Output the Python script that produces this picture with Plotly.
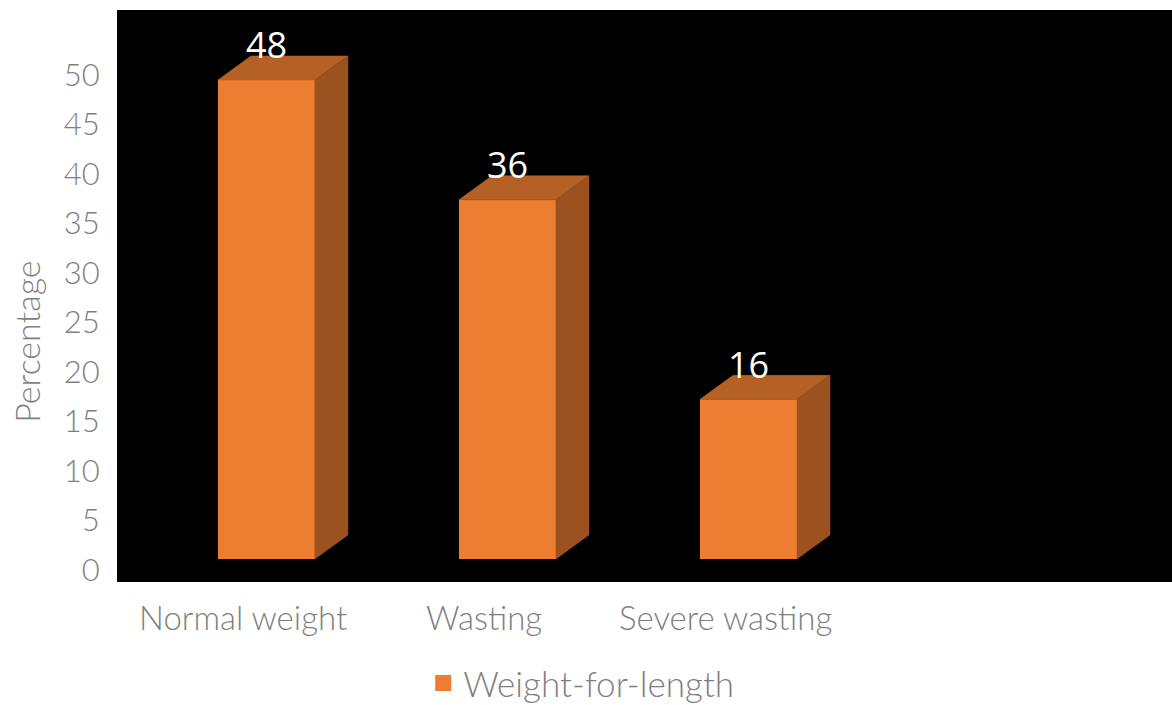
import plotly.graph_objects as go

categories = ["Normal weight", "Wasting", "Severe wasting"]
values = [48, 36, 16]
series_name = "Weight-for-length"
y_ticks = [0, 5, 10, 15, 20, 25, 30, 35, 40, 45, 50]

FRONT = "#ED7D31"
TOP = "#B56024"
SIDE = "#9B5120"
GREY = "#7F7F7F"

xs = list(range(len(categories)))
w = 0.4025      # bar width (category units)
dx = 0.137      # depth offset x (category units)
dy = 2.405      # depth offset y (value units)

top_x, top_y, side_x, side_y = [], [], [], []
for x, v in zip(xs, values):
    l, r = x - w / 2, x + w / 2
    top_x += [l, l + dx, r + dx, r, l, None]
    top_y += [v, v + dy, v + dy, v, v, None]
    side_x += [r, r + dx, r + dx, r, r, None]
    side_y += [0, dy, v + dy, v, 0, None]

fig = go.Figure()
fig.add_trace(go.Bar(x=xs, y=values, width=w, marker=dict(color=FRONT, line=dict(width=0)),
                     xaxis="x", yaxis="y2", showlegend=False, hoverinfo="skip"))
fig.add_trace(go.Scatter(x=top_x, y=top_y, fill="toself", fillcolor=TOP, mode="lines",
                         line=dict(width=0.5, color=TOP), xaxis="x", yaxis="y2",
                         showlegend=False, hoverinfo="skip"))
fig.add_trace(go.Scatter(x=side_x, y=side_y, fill="toself", fillcolor=SIDE, mode="lines",
                         line=dict(width=0.5, color=SIDE), xaxis="x", yaxis="y2",
                         showlegend=False, hoverinfo="skip"))
# legend entry
fig.add_trace(go.Scatter(x=[None], y=[None], mode="markers", name=series_name,
                         marker=dict(symbol="square", size=18, color=FRONT),
                         showlegend=True))

annotations = []
for x, v in zip(xs, values):
    annotations.append(dict(x=x, y=v, xref="x", yref="y2", text=str(v), showarrow=False,
                            yanchor="middle", yshift=35,
                            font=dict(family="Open Sans", size=36, color="white")))
for x, c in zip(xs, categories):
    annotations.append(dict(x=x, y=-0.0612, xref="x", yref="paper", text=c, showarrow=False,
                            yanchor="middle", xshift=-23,
                            font=dict(family="Lato", size=33, color=GREY, weight=300)))
annotations.append(dict(x=-0.0853, y=0.42, xref="paper", yref="paper", text="Percentage",
                        showarrow=False, textangle=-90, xanchor="center", yanchor="middle",
                        font=dict(family="Lato", size=34, color=GREY, weight=300)))

fig.update_layout(
    width=1172, height=705,
    margin=dict(l=117, r=0, t=10, b=123, autoexpand=False),
    paper_bgcolor="white", plot_bgcolor="black",
    xaxis=dict(range=[-0.620, 3.757], showticklabels=False, showgrid=False,
               zeroline=False, ticks="", fixedrange=True),
    yaxis=dict(range=[-1.21, 56.57], tickvals=y_ticks, showgrid=False, zeroline=False,
               ticks="outside", ticklen=10, tickcolor="rgba(0,0,0,0)",
               tickfont=dict(family="Lato", size=31, color=GREY, weight=300)),
    yaxis2=dict(range=[-2.305, 55.01], overlaying="y", visible=False),
    legend=dict(orientation="h", x=0.44, xanchor="center", y=-0.177, yanchor="middle",
                font=dict(family="Lato", size=35, color=GREY, weight=300), itemsizing="trace",
                bgcolor="rgba(0,0,0,0)", borderwidth=0),
    annotations=annotations,
    showlegend=True,
)

fig.write_html("out.html")
